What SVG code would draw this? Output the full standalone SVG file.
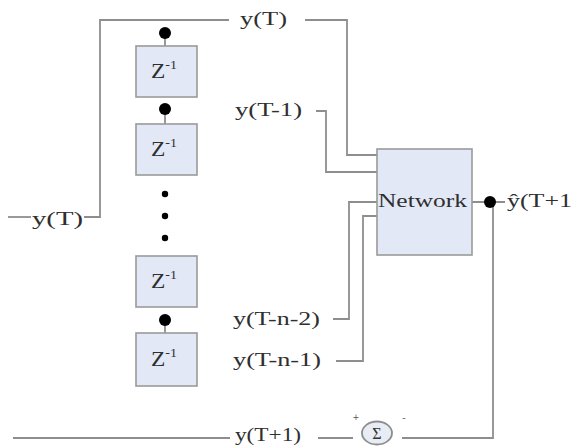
<svg xmlns="http://www.w3.org/2000/svg" width="574" height="446" viewBox="0 0 574 446">
<style>
.ln{fill:none;stroke:#8e8e8e;stroke-width:1.8}
.box{fill:#e2e8f6;stroke:#9a9a9a;stroke-width:1.6}
.t{font-family:"Liberation Serif","Times New Roman",serif;font-size:18px;fill:#2f2f2f}
.z{font-family:"Liberation Serif","Times New Roman",serif;font-size:20px;fill:#2f2f2f}
.dot{fill:#000}
</style>
<rect width="574" height="446" fill="#ffffff"/>
<g id="connectors">
  <polyline class="ln" points="8,217 31,217"/>
  <polyline class="ln" points="84,217 100,217 100,20 229,20"/>
  <line class="ln" x1="165" y1="33" x2="165" y2="46"/>
  <line class="ln" x1="165" y1="109" x2="165" y2="124"/>
  <line class="ln" x1="165" y1="320" x2="165" y2="333"/>
  <polyline class="ln" points="305,20 347,20 347,155 377,155"/>
  <polyline class="ln" points="316,111 326,111 326,172 377,172"/>
  <polyline class="ln" points="333,319 349,319 349,202 377,202"/>
  <polyline class="ln" points="336,361 363,361 363,216 377,216"/>
  <polyline class="ln" points="472,202 505,202"/>
  <polyline class="ln" points="493,202 493,438 402,438"/>
  <polyline class="ln" points="13,438 230,438"/>
  <polyline class="ln" points="318,438 353,438"/>
</g>
<g id="dots">
  <circle class="dot" cx="165" cy="33" r="6"/>
  <circle class="dot" cx="165" cy="109" r="6"/>
  <circle class="dot" cx="165" cy="194" r="3.2"/>
  <circle class="dot" cx="165" cy="216" r="3.2"/>
  <circle class="dot" cx="165" cy="238" r="3.2"/>
  <circle class="dot" cx="165" cy="320" r="6"/>
  <circle class="dot" cx="490" cy="202" r="6"/>
</g>
<g id="z1"><rect class="box" x="136" y="46" width="61" height="51"/><text class="z" x="151" y="78" textLength="26" lengthAdjust="spacingAndGlyphs">Z<tspan font-size="12" dy="-9">-1</tspan></text></g>
<g id="z2"><rect class="box" x="136" y="124" width="61" height="51"/><text class="z" x="151" y="156" textLength="26" lengthAdjust="spacingAndGlyphs">Z<tspan font-size="12" dy="-9">-1</tspan></text></g>
<g id="z3"><rect class="box" x="136" y="256" width="61" height="51"/><text class="z" x="151" y="288" textLength="26" lengthAdjust="spacingAndGlyphs">Z<tspan font-size="12" dy="-9">-1</tspan></text></g>
<g id="z4"><rect class="box" x="136" y="333" width="61" height="53"/><text class="z" x="151" y="366" textLength="26" lengthAdjust="spacingAndGlyphs">Z<tspan font-size="12" dy="-9">-1</tspan></text></g>
<g id="network"><rect class="box" x="377" y="149" width="95" height="106"/><text class="t" x="378" y="207" textLength="89" lengthAdjust="spacingAndGlyphs">Network</text></g>
<g id="sum">
  <ellipse cx="377" cy="433" rx="15" ry="11.5" fill="#e8ecf4" stroke="#8e8e8e" stroke-width="1.8"/>
  <text x="377" y="439" text-anchor="middle" font-family="Liberation Serif, serif" font-size="16" fill="#333">Σ</text>
  <text x="356" y="421" text-anchor="middle" font-family="Liberation Sans, sans-serif" font-size="10" fill="#666">+</text>
  <text x="404" y="421" text-anchor="middle" font-family="Liberation Sans, sans-serif" font-size="10" fill="#666">-</text>
</g>
<g id="labels">
  <text class="t" x="32" y="225" textLength="51" lengthAdjust="spacingAndGlyphs">y(T)</text>
  <text class="t" x="240" y="25" textLength="47" lengthAdjust="spacingAndGlyphs">y(T)</text>
  <text class="t" x="235" y="116" textLength="67" lengthAdjust="spacingAndGlyphs">y(T-1)</text>
  <text class="t" x="233" y="325" textLength="87" lengthAdjust="spacingAndGlyphs">y(T-n-2)</text>
  <text class="t" x="233" y="366" textLength="88" lengthAdjust="spacingAndGlyphs">y(T-n-1)</text>
  <text class="t" x="235" y="441" font-size="17" textLength="66" lengthAdjust="spacingAndGlyphs">y(T+1)</text>
  <text class="t" x="507" y="207" textLength="65" lengthAdjust="spacingAndGlyphs">ŷ(T+1</text>
</g>
</svg>
